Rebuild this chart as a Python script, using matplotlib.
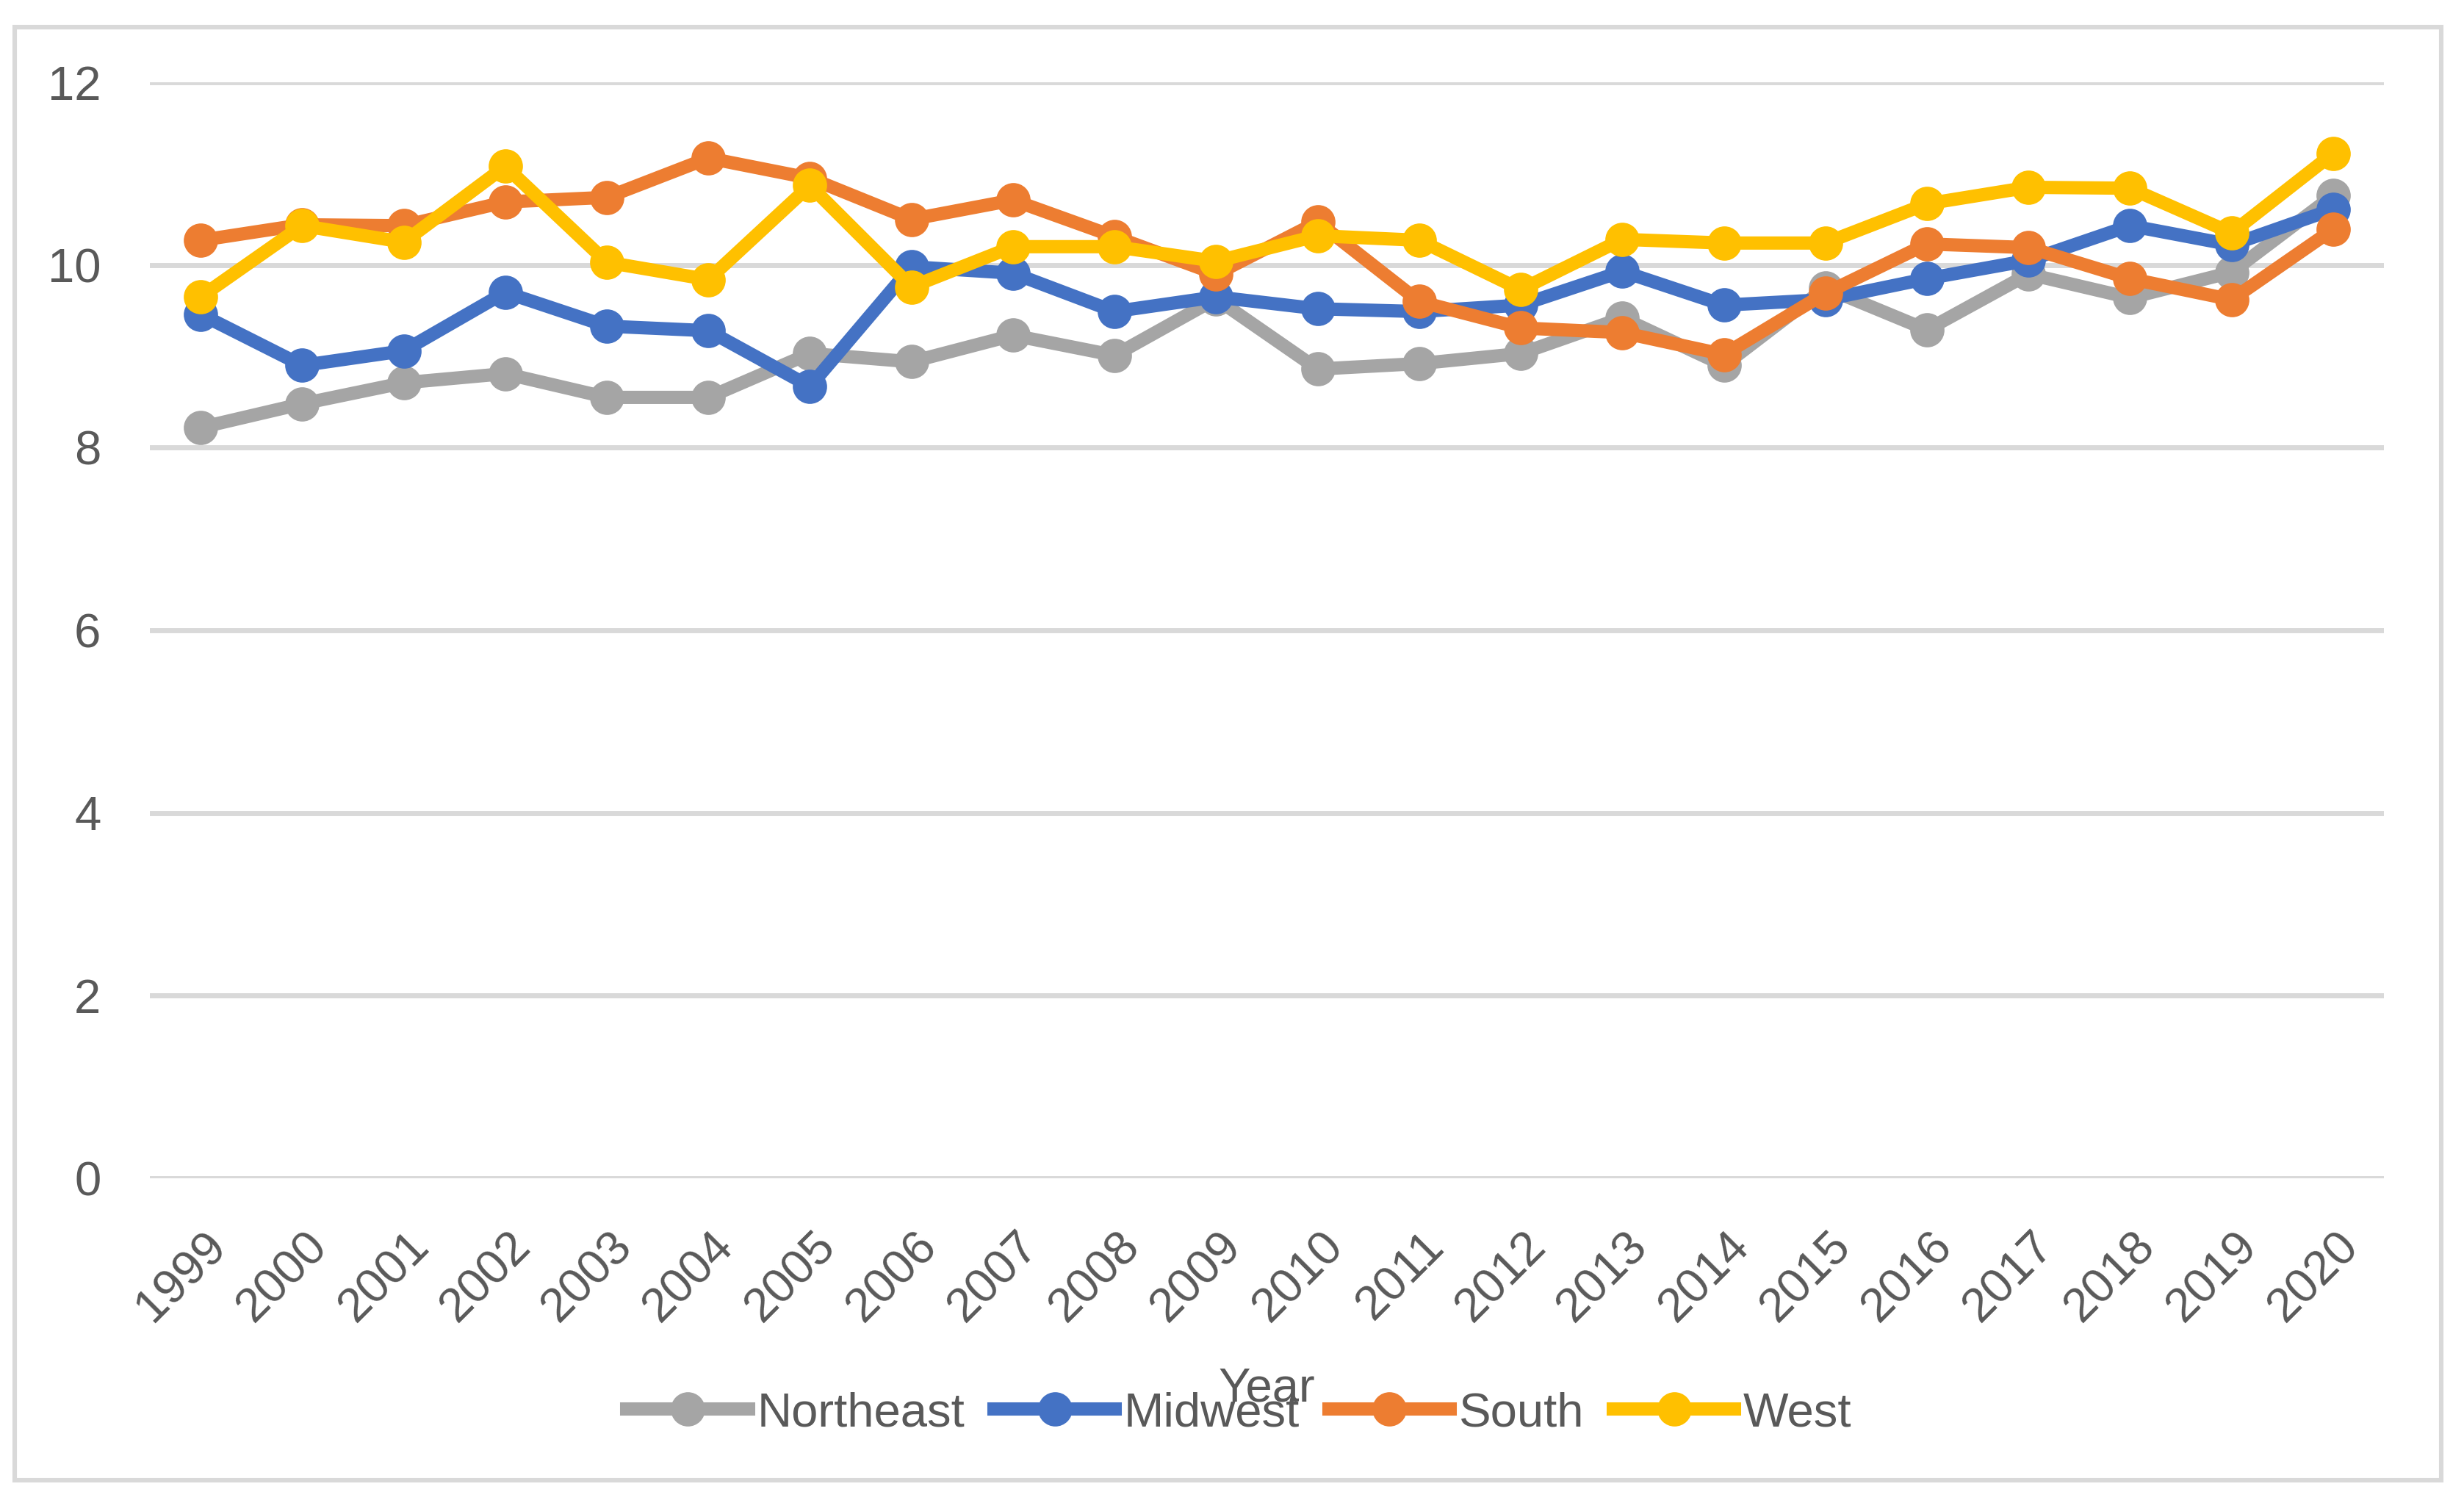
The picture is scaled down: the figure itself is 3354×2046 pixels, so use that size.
import matplotlib.pyplot as plt
import matplotlib.transforms as mtransforms
from matplotlib.patches import Rectangle

years = [str(y) for y in range(1999, 2021)]
northeast = [8.22, 8.48, 8.71, 8.81, 8.55, 8.55, 9.03, 8.94, 9.23, 9.01, 9.63,
             8.86, 8.92, 9.03, 9.42, 8.90, 9.75, 9.29, 9.90, 9.64, 9.92, 10.76]
midwest = [9.46, 8.90, 9.06, 9.70, 9.33, 9.28, 8.67, 9.98, 9.91, 9.49, 9.65,
           9.52, 9.49, 9.56, 9.93, 9.56, 9.62, 9.85, 10.05, 10.43, 10.22, 10.61]
south = [10.27, 10.44, 10.43, 10.69, 10.74, 11.17, 10.95, 10.50, 10.71, 10.31, 9.90,
         10.47, 9.60, 9.31, 9.26, 9.02, 9.69, 10.23, 10.19, 9.85, 9.62, 10.39]
west = [9.65, 10.43, 10.25, 11.08, 10.03, 9.84, 10.87, 9.76, 10.20, 10.20, 10.04,
        10.32, 10.27, 9.73, 10.28, 10.24, 10.24, 10.67, 10.85, 10.84, 10.35, 11.22]
yticks = [0, 2, 4, 6, 8, 10, 12]

series = [('Northeast', northeast, '#A5A5A5'),
          ('Midwest', midwest, '#4472C4'),
          ('South', south, '#ED7D31'),
          ('West', west, '#FFC000')]

plt.rcParams['font.family'] = 'Liberation Sans'
txt = '#595959'
fs = 23.5
W, H, DPI = 3355, 2046, 200

fig = plt.figure(figsize=(W / DPI, H / DPI), dpi=DPI)
ax = fig.add_axes([204 / W, 1 - 1604 / H, (3245 - 204) / W, (1604 - 112) / H])

x = list(range(len(years)))
for i, (name, vals, col) in enumerate(series):
    ax.plot(x, vals, color=col, lw=6.5, marker='o', markersize=15.8,
            label=name, zorder=3 + i, clip_on=False, solid_joinstyle='miter')

ax.set_xlim(-0.5, len(years) - 0.5)
ax.set_ylim(0, 12)
ax.set_yticks(yticks)
ax.set_yticklabels([str(v) for v in yticks], fontsize=fs, color=txt)
ax.grid(axis='y', color='#D9D9D9', lw=2.5, zorder=0)
ax.set_axisbelow(True)
for s in ax.spines.values():
    s.set_visible(False)
ax.tick_params(axis='both', length=0)
ax.tick_params(axis='y', pad=24)

ax.set_xticks(x)
ax.set_xticklabels(years, fontsize=fs, color=txt, rotation=45,
                   ha='right', va='center', rotation_mode='anchor')
ax.tick_params(axis='x', pad=30)
shift = mtransforms.ScaledTranslation(25 / DPI, 0, fig.dpi_scale_trans)
for lab in ax.get_xticklabels():
    lab.set_transform(lab.get_transform() + shift)

fig.text(1724 / W, 1 - 1908 / H, 'Year', fontsize=fs, color=txt,
         ha='center', va='baseline')

leg = fig.legend(loc='center', bbox_to_anchor=(1687 / W, 1 - 1924 / H), ncol=4,
                 frameon=False, fontsize=fs, handlelength=2.53,
                 handletextpad=0.18, columnspacing=0.61, borderpad=0)
for t in leg.get_texts():
    t.set_color(txt)

fig.patches.append(Rectangle((20 / W, 1 - 2015 / H), (3323 - 20) / W, (2015 - 37) / H,
                             transform=fig.transFigure, fill=False,
                             edgecolor='#D9D9D9', lw=2.2))

fig.savefig('out.png', dpi=DPI, facecolor='white')
